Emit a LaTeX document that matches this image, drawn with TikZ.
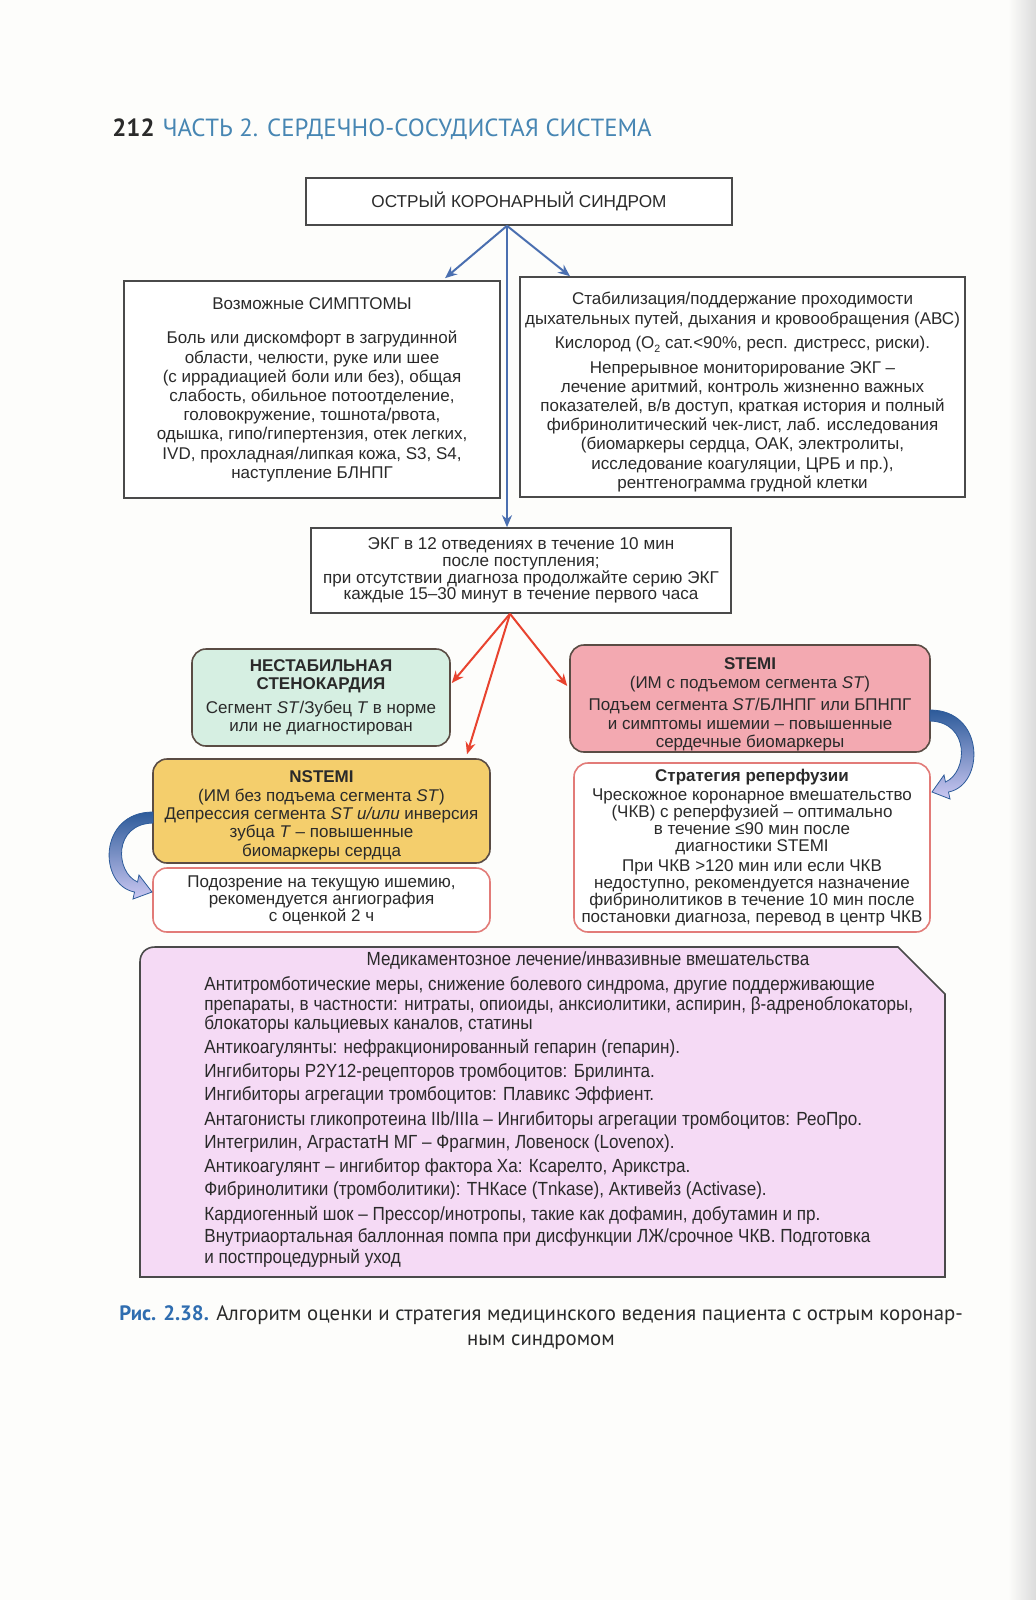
\documentclass[tikz,border=0pt]{standalone}
\usepackage{fontspec}
\setmainfont{Liberation Sans}
\newfontfamily\hdr{PT Sans}
\newfontfamily\narrow[FakeStretch=0.9]{Liberation Sans}
\usetikzlibrary{arrows.meta}
\definecolor{pagebg}{HTML}{FDFDFB}
\definecolor{boxgray}{HTML}{4A4A4A}
\definecolor{rndline}{HTML}{5A4C44}
\definecolor{mintfill}{HTML}{D6EFE2}
\definecolor{pinkfill}{HTML}{F3A9B1}
\definecolor{goldfill}{HTML}{F4CE6C}
\definecolor{lilacfill}{HTML}{F5DAF5}
\definecolor{redline}{HTML}{E27B78}
\definecolor{arrblue}{HTML}{4A6FB0}
\definecolor{arrred}{HTML}{E8432F}
\definecolor{hdrblue}{HTML}{4786B3}
\definecolor{capblue}{HTML}{2F6DB0}
\definecolor{txt}{HTML}{2A2A2A}
\definecolor{curvdark}{HTML}{2D5B9A}
\definecolor{curvlight}{HTML}{CBC8F2}
\newcommand\mysub[1]{\raisebox{-0.4ex}{\fontsize{5.3}{5.3}\selectfont #1}}
\begin{document}
\begin{tikzpicture}[x=0.5pt,y=-0.5pt,
  every node/.style={text=txt},
  plainbox/.style={draw=boxgray, line width=0.8pt, fill=white, inner sep=0pt, align=center, font=\fontsize{8.5}{9.6}\selectfont},
  colbox/.style={draw=rndline, line width=0.8pt, rounded corners=7pt, inner sep=0pt, align=center, font=\fontsize{8.5}{9.2}\selectfont},
  redbox/.style={draw=redline, line width=0.8pt, fill=white, rounded corners=7pt, inner sep=0pt, align=center, font=\fontsize{8.5}{8.5}\selectfont},
  bluearr/.style={draw=arrblue, line width=1pt, -{Stealth[length=6pt,width=5pt]}},
  redarr/.style={draw=arrred, line width=1pt, -{Stealth[length=6pt,width=5pt]}},
  medline/.style={anchor=base west, inner sep=0pt, font=\narrow\fontsize{9.5}{10}\selectfont},
  curvarrow/.style={top color=curvdark, bottom color=curvlight, draw=curvdark, line width=0.4pt}
]
\fill[pagebg] (0,0) rectangle (1036,1600);
\shade[left color=pagebg, right color=black!14] (1008,0) rectangle (1036,1600);
\useasboundingbox (0,0) rectangle (1036,1600);

% header
\node[anchor=base west, inner sep=0pt, font=\hdr\fontsize{12.4}{13}\selectfont] (hdr) at (112,136)
  {\textbf{\color{txt}212}\hspace{4pt}{\color{hdrblue}ЧАСТЬ 2. СЕРДЕЧНО-СОСУДИСТАЯ СИСТЕМА}};

% boxes
\node[plainbox, minimum width=213pt, minimum height=23.5pt, font=\fontsize{8.6}{10}\selectfont] (acs) at (519,201.5) {ОСТРЫЙ КОРОНАРНЫЙ СИНДРОМ};

\node[plainbox, minimum width=188pt, minimum height=108.5pt] (symp) at (312,389.5)
 {Возможные СИМПТОМЫ\\[7.8pt]
  Боль или дискомфорт в загрудинной\\
  области, челюсти, руке или шее\\
  (с иррадиацией боли или без), общая\\
  слабость, обильное потоотделение,\\
  головокружение, тошнота/рвота,\\
  одышка, гипо/гипертензия, отек легких,\\
  IVD, прохладная/липкая кожа, S3, S4,\\
  наступление БЛНПГ};

\node[plainbox, minimum width=222.5pt, minimum height=110pt] (stab) at (742.5,387)
 {\rule{0pt}{11.4pt}Стабилизация/поддержание проходимости\\
  дыхательных путей, дыхания и кровообращения (АВС)\\[2.8pt]
  Кислород (O\mysub{2} сат.<90\%, респ. дистресс, риски).\\[2.5pt]
  Непрерывное мониторирование ЭКГ –\\
  лечение аритмий, контроль жизненно важных\\
  показателей, в/в доступ, краткая история и полный\\
  фибринолитический чек-лист, лаб. исследования\\
  (биомаркеры сердца, ОАК, электролиты,\\
  исследование коагуляции, ЦРБ и пр.),\\
  рентгенограмма грудной клетки};

\node[plainbox, minimum width=210pt, minimum height=42.5pt, font=\fontsize{8.55}{8.3}\selectfont] (ecg) at (521,570.5)
 {ЭКГ в 12 отведениях в течение 10 мин\\
  после поступления;\\
  при отсутствии диагноза продолжайте серию ЭКГ\\
  каждые 15–30 минут в течение первого часа};

\node[colbox, fill=mintfill, minimum width=129pt, minimum height=48.5pt] (unst) at (321,697.5)
 {\bfseries НЕСТАБИЛЬНАЯ\\[-0.6pt]
  \bfseries СТЕНОКАРДИЯ\\[2.8pt]
  Сегмент \textit{ST}/Зубец \textit{T} в норме\\
  или не диагностирован};

\node[colbox, fill=pinkfill, minimum width=180pt, minimum height=53.5pt] (stemi) at (750,698.5)
 {\rule{0pt}{12pt}\bfseries STEMI\\
  (ИМ с подъемом сегмента \textit{ST})\\[2pt]
  Подъем сегмента \textit{ST}/БЛНПГ или БПНПГ\\
  и симптомы ишемии – повышенные\\
  сердечные биомаркеры};

\node[colbox, fill=goldfill, minimum width=168.5pt, minimum height=52pt] (nstemi) at (321.5,811)
 {\rule{0pt}{10.2pt}\bfseries NSTEMI\\
  (ИМ без подъема сегмента \textit{ST})\\
  Депрессия сегмента \textit{ST и/или} инверсия\\
  зубца \textit{T} – повышенные\\
  биомаркеры сердца};

\node[redbox, minimum width=168.5pt, minimum height=32pt] (susp) at (321.5,900)
 {Подозрение на текущую ишемию,\\
  рекомендуется ангиография\\
  с оценкой 2 ч};

\node[redbox, minimum width=178pt, minimum height=84.5pt] (strat) at (752,847.5)
 {\bfseries Стратегия реперфузии\\[1pt]
  Чрескожное коронарное вмешательство\\
  (ЧКВ) с реперфузией – оптимально\\
  в течение ≤90 мин после\\
  диагностики STEMI\\[1.5pt]
  При ЧКВ >120 мин или если ЧКВ\\
  недоступно, рекомендуется назначение\\
  фибринолитиков в течение 10 мин после\\
  постановки диагноза, перевод в центр ЧКВ};

% medication box
\filldraw[fill=lilacfill, draw=boxgray, line width=0.8pt]
  (140,1277) -- (140,962) .. controls (140,953) and (146,947) .. (155,947)
  -- (898,947) -- (945,994) -- (945,1277) -- cycle;
\node[anchor=base, inner sep=0pt, font=\narrow\fontsize{9.5}{10}\selectfont] (mt) at (588,965) {Медикаментозное лечение/инвазивные вмешательства};
\node[medline] (m1) at (204,990) {Антитромботические меры, снижение болевого синдрома, другие поддерживающие};
\node[medline] (m2) at (204,1010) {препараты, в частности: нитраты, опиоиды, анксиолитики, аспирин, β-адреноблокаторы,};
\node[medline] (m3) at (204,1029) {блокаторы кальциевых каналов, статины};
\node[medline] (m4) at (204,1053) {Антикоагулянты: нефракционированный гепарин (гепарин).};
\node[medline] (m5) at (204,1077) {Ингибиторы P2Y12-рецепторов тромбоцитов: Брилинта.};
\node[medline] (m6) at (204,1100) {Ингибиторы агрегации тромбоцитов: Плавикс Эффиент.};
\node[medline] (m7) at (204,1125) {Антагонисты гликопротеина IIb/IIIa – Ингибиторы агрегации тромбоцитов: РеоПро.};
\node[medline] (m8) at (204,1148) {Интегрилин, АграстатН МГ – Фрагмин, Ловеноск (Lovenox).};
\node[medline] (m9) at (204,1172) {Антикоагулянт – ингибитор фактора Ха: Ксарелто, Арикстра.};
\node[medline] (m10) at (204,1195) {Фибринолитики (тромболитики): ТНКасе (Tnkase), Активейз (Activase).};
\node[medline] (m11) at (204,1220) {Кардиогенный шок – Прессор/инотропы, такие как дофамин, добутамин и пр.};
\node[medline] (m12) at (204,1242) {Внутриаортальная баллонная помпа при дисфункции ЛЖ/срочное ЧКВ. Подготовка};
\node[medline] (m13) at (204,1263) {и постпроцедурный уход};

% caption
\node[anchor=base west, inner sep=0pt, font=\hdr\fontsize{10.4}{12}\selectfont] (cap1) at (119,1320)
  {\textbf{\color{capblue}Рис. 2.38.} Алгоритм оценки и стратегия медицинского ведения пациента с острым коронар-};
\node[anchor=base, inner sep=0pt, font=\hdr\fontsize{10.4}{12}\selectfont] (cap2) at (541,1345) {ным синдромом};

% blue arrows
\coordinate (o1) at ([xshift=-6pt]acs.south);
\draw[bluearr] (o1) -- ([xshift=66.5pt,yshift=1pt]symp.north);
\draw[bluearr] (o1) -- ([xshift=-86.25pt,yshift=0pt]stab.north);
\draw[bluearr] (o1) -- ([xshift=-7pt]ecg.north);

% red arrows
\coordinate (o2) at ([xshift=-5.5pt]ecg.south);
\draw[redarr] (o2) -- ([xshift=0.5pt,yshift=7.25pt]unst.east);
\draw[redarr] (o2) -- ([xshift=-1pt,yshift=6.25pt]stemi.west);
\draw[redarr] (o2) -- ([xshift=72.75pt,yshift=2pt]nstemi.north);

% curved block arrows
\path[curvarrow] (930,710) .. controls (985,710) and (985,785) .. (948.5,792)
  -- (950,799) -- (932,792) -- (944,775) -- (945.5,782)
  .. controls (968,772) and (970,722) .. (930,721) -- cycle;
\path[curvarrow] (153,812) .. controls (98,812) and (98,885) .. (134.5,892)
  -- (133,899) -- (152,892) -- (139,875) -- (137.5,882)
  .. controls (115,872) and (113,824) .. (153,823) -- cycle;
\end{tikzpicture}
\end{document}
